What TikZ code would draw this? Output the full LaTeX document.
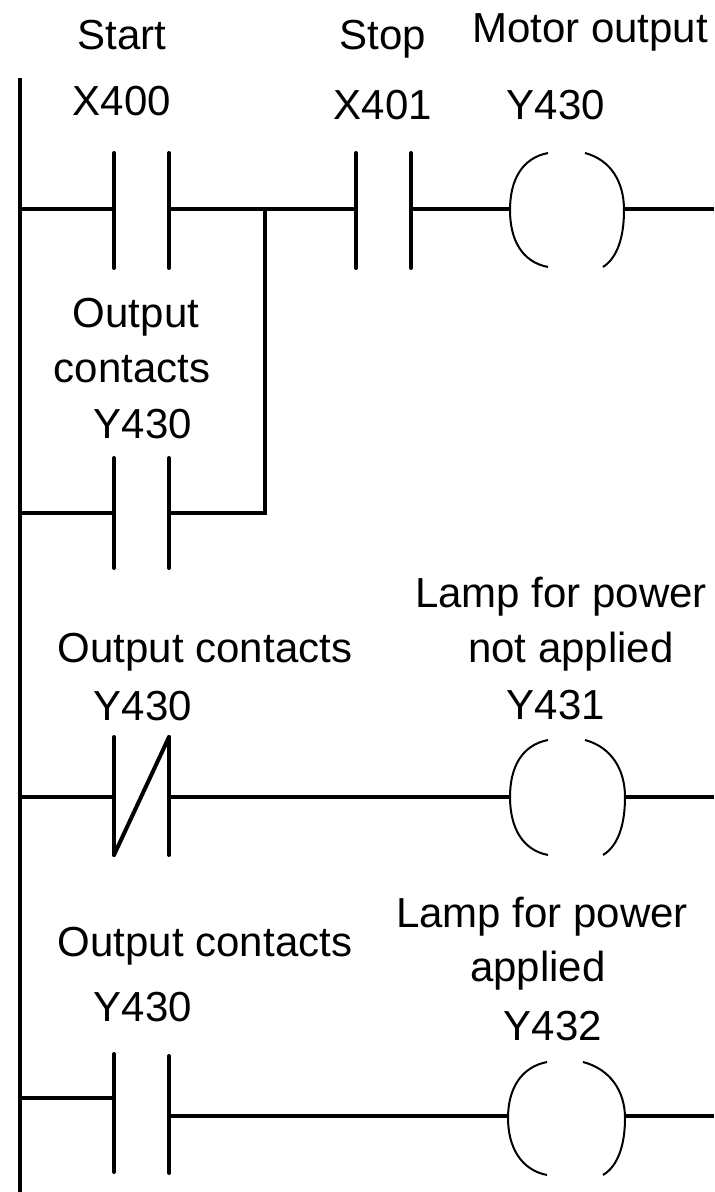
\documentclass[tikz,border=0pt]{standalone}
\usepackage{fontspec}
\setmainfont{Liberation Sans}
\begin{document}
\begin{tikzpicture}[x=0.5pt,y=-0.5pt,
  lbl/.style={inner sep=0pt,anchor=base,font=\fontsize{21}{25}\selectfont},
  rail/.style={line width=2pt},
  wire/.style={line width=1.6pt},
  plate/.style={line width=2pt,line cap=round},
  coilarc/.style={line width=1pt}]
\useasboundingbox (0,0) rectangle (714,1192);
% labels
\node[lbl] (tStart) at (122,50) {Start};
\node[lbl] (tX400) at (122,116) {X400};
\node[lbl] (tStop) at (383,50) {Stop};
\node[lbl] (tX401) at (383,120) {X401};
\node[lbl] (tMotor) at (590,43) {Motor output};
\node[lbl] (tY430a) at (556,120) {Y430};
\node[lbl] (tOut1) at (136,328) {Output};
\node[lbl] (tCon1) at (132,382) {contacts};
\node[lbl] (tY430b) at (143,438) {Y430};
\node[lbl] (tOC2) at (205,662) {Output contacts};
\node[lbl] (tY430c) at (143,720) {Y430};
\node[lbl] (tLamp1) at (561,607) {Lamp for power};
\node[lbl] (tNot) at (571,662) {not applied};
\node[lbl] (tY431) at (556,719) {Y431};
\node[lbl] (tOC3) at (205,956) {Output contacts};
\node[lbl] (tY430d) at (143,1021) {Y430};
\node[lbl] (tLamp2) at (542,927) {Lamp for power};
\node[lbl] (tAppl) at (538,981) {applied};
\node[lbl] (tY432) at (553,1040) {Y432};
% rail
\coordinate (railT) at (20,78);
\coordinate (railB) at (20,1192);
\draw[rail] (railT) -- (railB);
% ---- rung 1
\coordinate (r1L) at (20,209);
\coordinate (c1a) at (114,209); \coordinate (c1b) at (169,209);
\coordinate (j1) at (265,209);
\coordinate (c2a) at (356,209); \coordinate (c2b) at (411,209);
\coordinate (k1L) at (510,209); \coordinate (k1R) at (624,209);
\coordinate (r1R) at (714,209);
\draw[wire] (r1L) -- (c1a) (c1b) -- (j1) -- (c2a) (c2b) -- (k1L) (k1R) -- (r1R);
\draw[plate] (114,153) -- (114,268) (169,153) -- (169,268);
\draw[plate] (356,153) -- (356,268) (411,153) -- (411,268);
\draw[coilarc] (548,153) .. controls (522,158) and (510,180) .. (510,210) .. controls (510,240) and (522,262) .. (548,267);
\draw[coilarc] (585,153) .. controls (611,160) and (624,182) .. (624,210) .. controls (624,238) and (617,258) .. (603,267);
% ---- rung 2 (parallel branch)
\coordinate (r2L) at (20,513);
\coordinate (c3a) at (114,513); \coordinate (c3b) at (169,513);
\coordinate (j2) at (265,513);
\draw[wire] (r2L) -- (c3a) (c3b) -- (j2) -- (j1);
\draw[plate] (114,458) -- (114,568) (169,458) -- (169,568);
% ---- rung 3
\coordinate (r3L) at (20,797);
\coordinate (c4a) at (114,797); \coordinate (c4b) at (169,797);
\coordinate (k3L) at (510,797); \coordinate (k3R) at (625,797);
\coordinate (r3R) at (714,797);
\draw[wire] (r3L) -- (c4a) (c4b) -- (k3L) (k3R) -- (r3R);
\draw[plate] (114,737) -- (114,855) (169,737) -- (169,855);
\draw[plate] (114,855) -- (169,737);
\draw[coilarc] (548,740) .. controls (522,745) and (510,767) .. (510,797) .. controls (510,827) and (522,850) .. (548,855);
\draw[coilarc] (585,740) .. controls (611,747) and (625,769) .. (625,797) .. controls (625,825) and (618,846) .. (603,855);
% ---- rung 4
\coordinate (r4L) at (20,1098);
\coordinate (c5a) at (114,1098); \coordinate (c5b) at (169,1116);
\coordinate (k4L) at (508,1116); \coordinate (k4R) at (625,1116);
\coordinate (r4R) at (714,1116);
\draw[wire] (r4L) -- (c5a) (c5b) -- (k4L) (k4R) -- (r4R);
\draw[plate] (114,1054) -- (114,1172) (169,1056) -- (169,1173);
\draw[coilarc] (547,1062) .. controls (521,1067) and (508,1089) .. (508,1118) .. controls (508,1147) and (521,1170) .. (547,1175);
\draw[coilarc] (583,1062) .. controls (610,1069) and (625,1091) .. (625,1118) .. controls (625,1145) and (618,1166) .. (603,1175);
\end{tikzpicture}
\end{document}
